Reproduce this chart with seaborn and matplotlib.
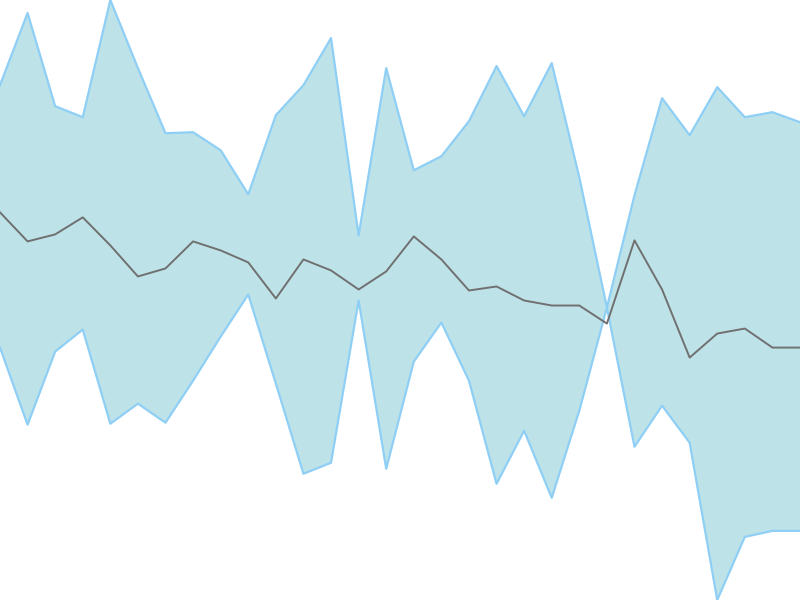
import numpy as np
import pandas as pd
import matplotlib
matplotlib.use("Agg")
import matplotlib.pyplot as plt
import seaborn as sns

# values (higher = further up)
steps = list(range(30))
upper = [515, 587, 494, 483, 600, 532, 467, 468, 450, 406,
         485, 515, 562, 365, 532, 430, 444, 479, 534, 484,
         537, 423, 293, 405, 502, 465, 513, 483, 488, 478]
middle = [388, 359, 366, 383, 355, 324, 332, 359, 350, 338,
          302, 341, 330, 311, 329, 364, 341, 310, 314, 300,
          295, 295, 277, 360, 311, 243, 267, 272, 253, 253]
lower = [253, 176, 249, 271, 177, 197, 178, 220, 264, 306,
         217, 127, 138, 300, 132, 239, 278, 220, 117, 170,
         103, 190, 293, 154, 195, 158, 1, 64, 70, 70]

df = pd.DataFrame({"step": steps, "upper": upper, "middle": middle, "lower": lower})

fig = plt.figure(figsize=(8, 6), dpi=100)
ax = fig.add_axes([0, 0, 1, 1])

# band
ax.fill_between(df["step"], df["lower"], df["upper"], color="#bde3e9", linewidth=0)
sns.lineplot(data=df, x="step", y="upper", ax=ax, color="#8fcff5", linewidth=1.6)
sns.lineplot(data=df, x="step", y="lower", ax=ax, color="#8fcff5", linewidth=1.6)

# center line
sns.lineplot(data=df, x="step", y="middle", ax=ax, color="#707070", linewidth=1.4)

ax.set_xlim(min(steps), max(steps))
ax.set_ylim(min(lower), max(upper))
ax.axis("off")

plt.savefig("out.png", dpi=100)
